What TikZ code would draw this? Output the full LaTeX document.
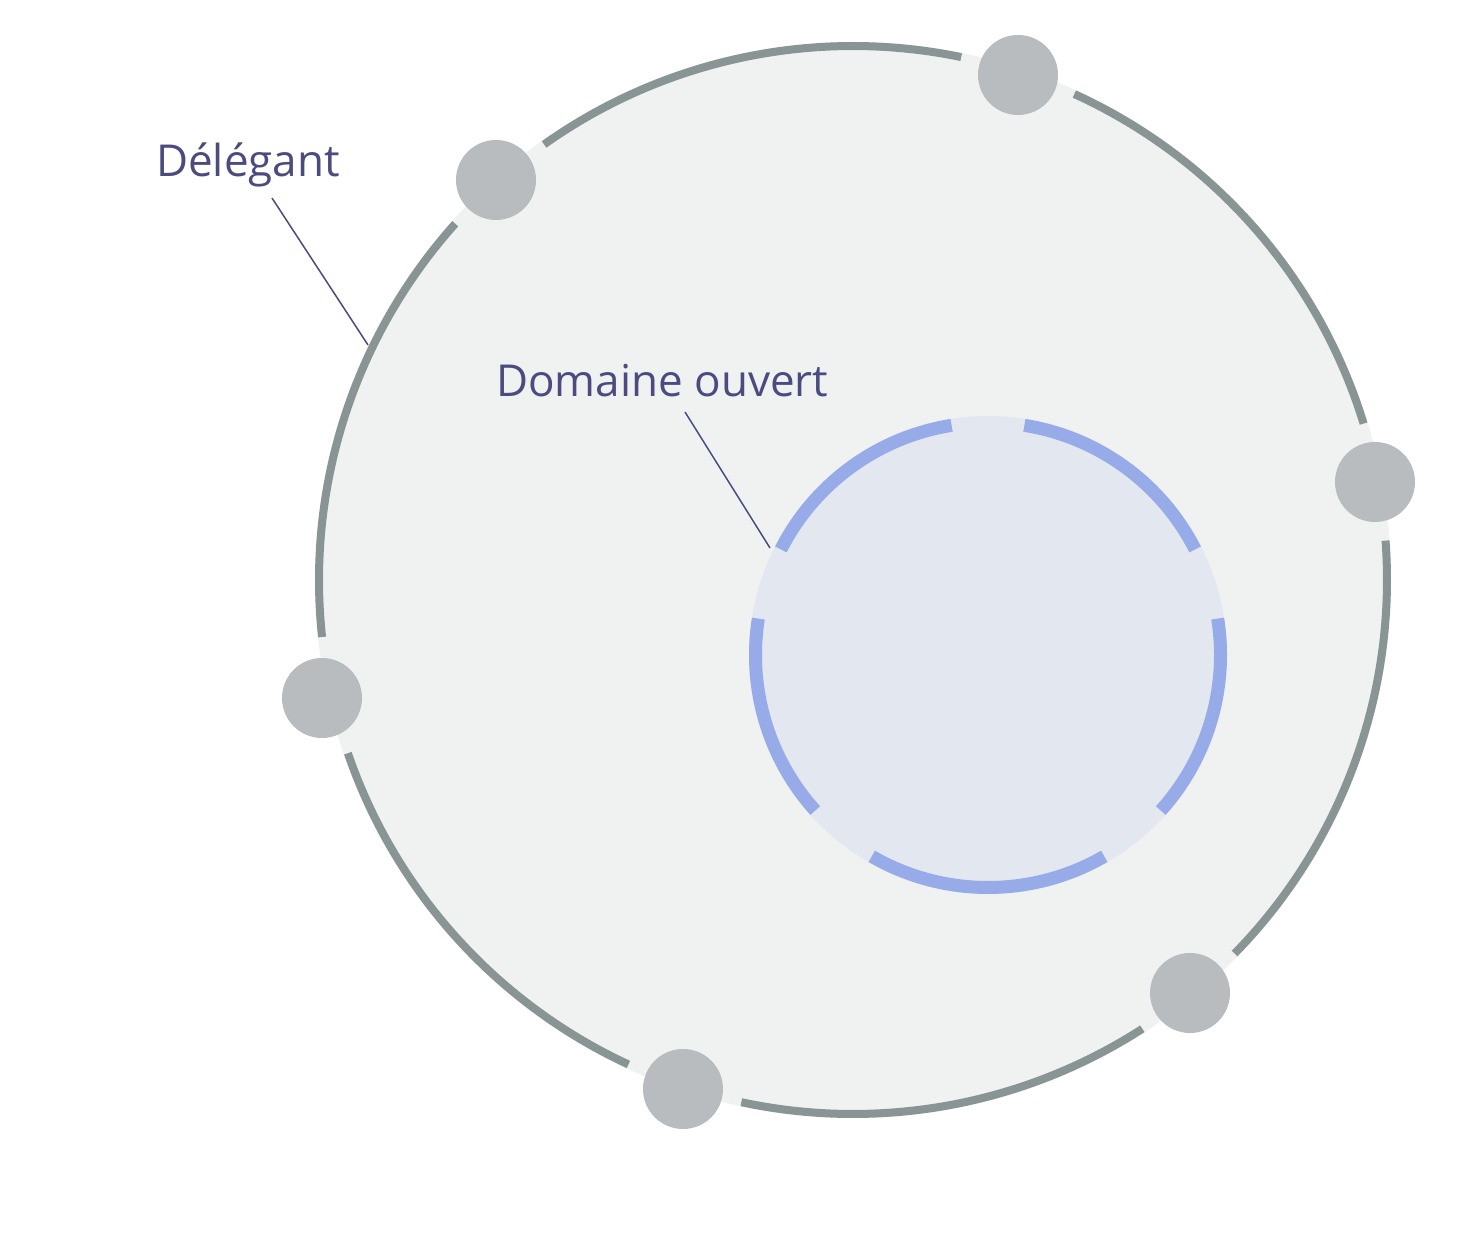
\documentclass[tikz,border=0pt]{standalone}
\usepackage{fontspec}
\setmainfont{Open Sans}
\usetikzlibrary{calc}
\definecolor{bigfill}{RGB}{240,242,242}
\definecolor{bigstroke}{RGB}{137,149,149}
\definecolor{dotgray}{RGB}{184,188,191}
\definecolor{innerfill}{RGB}{227,231,240}
\definecolor{innerstroke}{RGB}{151,171,232}
\definecolor{labelcol}{RGB}{75,75,128}
\tikzset{
  outerarc/.style={draw=bigstroke, line width=8pt},
  innerarc/.style={draw=innerstroke, line width=13pt},
  dotnode/.style={circle, fill=dotgray, minimum size=80pt, inner sep=0pt},
  lbl/.style={text=labelcol, font=\fontsize{44}{50}\selectfont, inner sep=0pt, anchor=base west},
  leader/.style={draw=labelcol, line width=1.5pt}
}
\begin{document}
\begin{tikzpicture}[x=1pt,y=1pt]
\useasboundingbox (0,0) rectangle (1460,1240);
\fill[white] (0,0) rectangle (1460,1240);
% big circle
\coordinate (C) at (853,660);
\fill[bigfill] (C) circle (538pt);
\foreach \a/\b in {17.03/65.51, 78.31/125.35, 138.15/186.13, 198.93/245.13, 257.93/302.81, 315.61/364.23}{
  \draw[outerarc] ($(C)+(\a:534pt)$) arc[start angle=\a, end angle=\b, radius=534pt];
}
% inner circle
\coordinate (I) at (988,585);
\fill[innerfill] (I) circle (239pt);
\foreach \s/\e in {27/81, 99/153, 171/222, 240/300, 318/369}{
  \draw[innerarc] ($(I)+(\s:232.5pt)$) arc[start angle=\s, end angle=\e, radius=232.5pt];
}
% dots
\node[dotnode] (d1) at (1018,1165) {};
\node[dotnode] (d2) at (496,1060) {};
\node[dotnode] (d3) at (1375,758) {};
\node[dotnode] (d4) at (322,542) {};
\node[dotnode] (d5) at (1190,247) {};
\node[dotnode] (d6) at (683,151) {};
% labels
\node[lbl] (deleg) at (156,1063) {Délégant};
\node[lbl] (domaine) at (496,843) {Domaine ouvert};
\coordinate (delegA) at (272,1042);
\coordinate (delegB) at (368,895);
\coordinate (domA) at (685,828);
\coordinate (domB) at (770,692);
\draw[leader] (delegA) -- (delegB);
\draw[leader] (domA) -- (domB);
\end{tikzpicture}
\end{document}
